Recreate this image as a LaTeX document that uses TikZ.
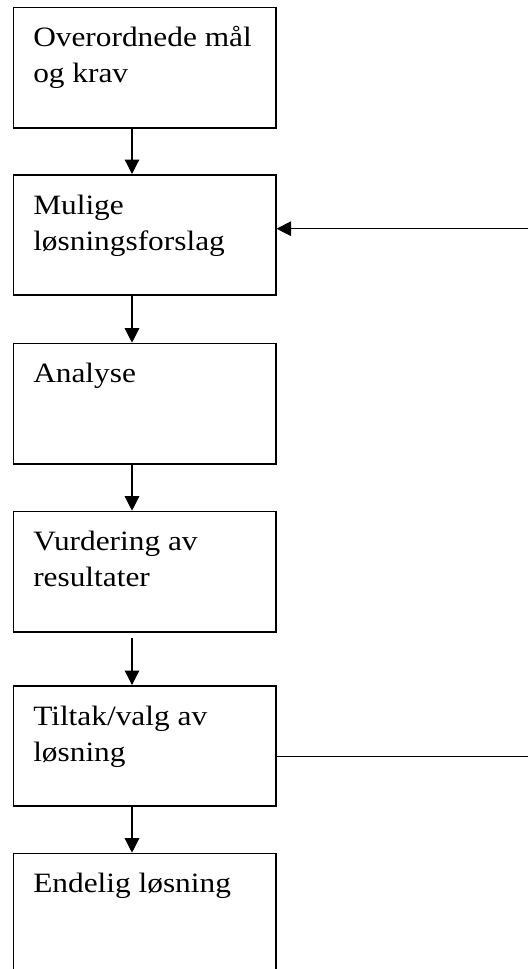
\documentclass[tikz,border=0pt]{standalone}
\usepackage{fontspec}
\setmainfont[FakeStretch=1.12]{Liberation Serif}
\usetikzlibrary{arrows.meta, positioning}

\newcommand{\steptext}[1]{\parbox[c][120.3pt][t]{262.3pt}{\raggedright\leftskip=19.8pt\rule{0pt}{39.5pt}#1}}

\tikzset{
  stepbox/.style={draw, line width=1.5pt, inner sep=0pt, anchor=north west,
    font=\fontsize{28}{36}\selectfont},
  flowarrow/.style={line width=1.3pt, -{Triangle[length=14.5pt, width=14.5pt]}},
  flowline/.style={line width=1.3pt}
}

\begin{document}
\begin{tikzpicture}[x=1pt, y=-1pt]
    \useasboundingbox (0,0) rectangle (528,969);
    \clip (0,0) rectangle (528,969);

    % Steps
    \node[stepbox] (b1) at (12.7,6.7) {\steptext{Overordnede mål\\og krav}};
    \node[stepbox] (b2) at (12.7,174) {\steptext{Mulige\\løsningsforslag}};
    \node[stepbox] (b3) at (12.7,342.7) {\steptext{Analyse}};
    \node[stepbox] (b4) at (12.7,510.7) {\steptext{Vurdering av\\resultater}};
    \node[stepbox] (b5) at (12.7,685) {\steptext{Tiltak/valg av\\løsning}};
    \node[stepbox] (b6) at (12.7,852.7) {\steptext{Endelig løsning}};

    % Main flow
    \coordinate (spine) at (132,0);
    \draw[flowarrow] (b1.south -| spine) -- (b2.north -| spine);
    \draw[flowarrow] (b2.south -| spine) -- (b3.north -| spine);
    \draw[flowarrow] (b3.south -| spine) -- (b4.north -| spine);
    \draw[flowarrow] ([yshift=-5.5pt]b4.south -| spine) -- (b5.north -| spine);
    \draw[flowarrow] (b5.south -| spine) -- (b6.north -| spine);

    % Feedback
    \coordinate (fbin) at (528,228.7);
    \coordinate (fbout) at (528,756.7);
    \draw[flowline] (b5.east |- fbout) -- (fbout);
    \draw[flowarrow] (fbin) -- (b2.east |- fbin);
\end{tikzpicture}
\end{document}
